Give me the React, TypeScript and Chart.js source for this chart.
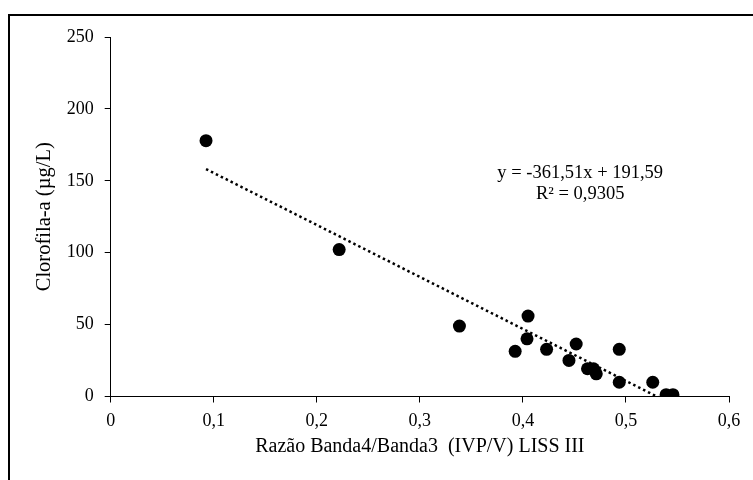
import React, { useEffect, useRef } from "react";
import { Chart, registerables } from "chart.js";

Chart.register(...registerables);

// Data
const razaoB4B3: number[] = [
  0.0925, 0.2217, 0.3384, 0.3925, 0.404, 0.405, 0.423, 0.4447, 0.4517,
  0.4627, 0.4685, 0.4712, 0.4935, 0.4935, 0.526, 0.539, 0.5456,
];
const clorofila: number[] = [
  177.9, 102.2, 49.0, 31.4, 40.1, 55.9, 32.8, 25.1, 36.5,
  19.3, 19.3, 15.8, 32.8, 9.9, 9.9, 1.3, 1.3,
];
const trendSlope = -361.51;
const trendIntercept = 191.59;
const equationLines: string[] = ["y = -361,51x + 191,59", "R² = 0,9305"];
const xTickLabels: string[] = ["0", "0,1", "0,2", "0,3", "0,4", "0,5", "0,6"];
const yTickLabels: string[] = ["0", "50", "100", "150", "200", "250"];
const xTitle = "Razão Banda4/Banda3  (IVP/V) LISS III";
const yTitle = "Clorofila-a (µg/L)";

const FONT = '"Liberation Serif", "Times New Roman", serif';
const EQ_ANCHOR = { x: 0.4556, y1: 155.5, y2: 141.0 };

export default function App() {
  const ref = useRef<HTMLCanvasElement | null>(null);

  useEffect(() => {
    if (!ref.current) return;
    const pts = razaoB4B3.map((x, i) => ({ x, y: clorofila[i] }));
    const xMin = Math.min(...razaoB4B3);
    const xMax = Math.max(...razaoB4B3);
    const trend = [
      { x: xMin, y: trendSlope * xMin + trendIntercept },
      { x: xMax, y: trendSlope * xMax + trendIntercept },
    ];

    const eqPlugin = {
      id: "eq",
      afterDatasetsDraw(chart: any) {
        const { ctx, scales } = chart;
        ctx.save();
        ctx.fillStyle = "#000";
        ctx.font = `18.5px ${FONT}`;
        ctx.textAlign = "center";
        ctx.textBaseline = "middle";
        const px = scales.x.getPixelForValue(EQ_ANCHOR.x);
        ctx.fillText(equationLines[0], px, scales.y.getPixelForValue(EQ_ANCHOR.y1));
        ctx.fillText(equationLines[1], px, scales.y.getPixelForValue(EQ_ANCHOR.y2));
        ctx.restore();
      },
    };

    const chart = new Chart(ref.current, {
      type: "scatter",
      data: {
        datasets: [
          {
            type: "line",
            data: trend,
            borderColor: "#000",
            borderWidth: 2.5,
            borderDash: [2.5, 3],
            pointRadius: 0,
            fill: false,
            order: 2,
          } as any,
          {
            data: pts,
            backgroundColor: "#000",
            borderColor: "#000",
            borderWidth: 0,
            pointRadius: 6.5,
            pointHoverRadius: 6.5,
            order: 1,
          },
        ],
      },
      options: {
        animation: false,
        responsive: false,
        maintainAspectRatio: false,
        layout: { padding: { top: 37, right: 24, left: 0, bottom: 0 } },
        plugins: {
          legend: { display: false },
          tooltip: { enabled: false },
        },
        scales: {
          x: {
            type: "linear",
            min: 0,
            max: 0.6,
            afterFit: (s: any) => {
              s.height = 83.5;
            },
            ticks: {
              stepSize: 0.1,
              color: "#000",
              padding: 8,
              font: { family: FONT, size: 18 },
              callback: (v: any) => xTickLabels[Math.round(Number(v) * 10)] ?? "",
            },
            grid: {
              display: true,
              drawOnChartArea: false,
              drawTicks: true,
              tickLength: 6,
              color: "#000",
            },
            border: { display: true, color: "#000", width: 1 },
            title: {
              display: true,
              text: xTitle,
              color: "#000",
              font: { family: FONT, size: 20 },
              padding: { top: 0, bottom: 21 },
            },
          },
          y: {
            type: "linear",
            min: 0,
            max: 250,
            afterFit: (s: any) => {
              s.width = 110.7;
            },
            ticks: {
              stepSize: 50,
              color: "#000",
              padding: 11,
              font: { family: FONT, size: 18 },
              callback: (v: any) => yTickLabels[Math.round(Number(v) / 50)] ?? "",
            },
            grid: {
              display: true,
              drawOnChartArea: false,
              drawTicks: true,
              tickLength: 6,
              color: "#000",
            },
            border: { display: true, color: "#000", width: 1 },
            title: {
              display: true,
              text: yTitle,
              color: "#000",
              font: { family: FONT, size: 20.5 },
              padding: { top: 32, bottom: 0 },
            },
          },
        },
      },
      plugins: [eqPlugin],
    });
    return () => chart.destroy();
  }, []);

  return (
    <div>
      <div
        style={{
          position: "absolute",
          left: 8,
          top: 14,
          width: 760,
          height: 480,
          borderLeft: "2px solid #000",
          borderTop: "2px solid #000",
          boxSizing: "border-box",
        }}
      />
      <canvas
        ref={ref}
        width={753}
        height={480}
        style={{ position: "absolute", left: 0, top: 0, width: 753, height: 480 }}
      />
    </div>
  );
}
